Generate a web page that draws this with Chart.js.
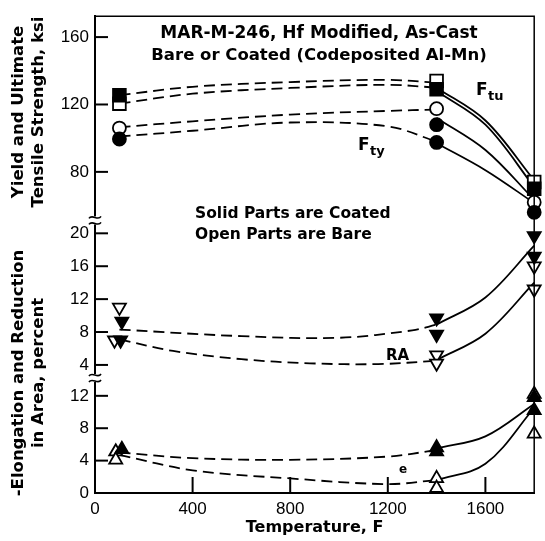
<!DOCTYPE html>
<html>
<head>
<meta charset="utf-8">
<title>MAR-M-246 tensile properties</title>
<script src="https://cdn.jsdelivr.net/npm/chart.js@4.4.1/dist/chart.umd.min.js"></script>
<style>
  html, body { margin: 0; padding: 0; background: #fff; }
  #wrap { width: 545px; height: 541px; position: relative; }
</style>
</head>
<body>
<div id="wrap"><canvas id="chart" width="545" height="541"></canvas></div>
<script>
// tick labels
const tempTicks = [0, 400, 800, 1200, 1600];
const strengthTicks = [80, 120, 160];
const raTicks = [4, 8, 12, 16, 20];
const elongTicks = [0, 4, 8, 12];

// test points [temperature F, value]  (solid = coated, open = bare)
const ftuCoatedPts = [[100, 125.5], [1400, 129], [1800, 70]];
const ftuBarePts = [[100, 120.5], [1400, 134], [1800, 74]];
const ftyCoatedPts = [[100, 99.5], [1400, 108], [1400, 97.5], [1800, 56]];
const ftyBarePts = [[100, 106], [1400, 117.5], [1800, 62]];
const raCoatedPts = [[110, 9.3], [105, 7], [1400, 9.7], [1400, 7.7], [1800, 19.7], [1800, 17.2]];
const raBarePts = [[100, 11], [80, 7], [1400, 5.2], [1400, 4.2], [1800, 16], [1800, 13.2]];
const elongCoatedPts = [[110, 5.4], [1400, 5.6], [1400, 5.1], [1800, 11.8], [1800, 10.2]];
const elongBarePts = [[85, 5.1], [85, 4.1], [1400, 1.8], [1400, 0.6], [1800, 12.2], [1800, 7.3]];

// faired curves: dashed part up to 1400 F, solid part 1400-1800 F
const ftuDashA = [[100, 125.5], [400, 130.5], [800, 133.3], [1200, 134.6], [1400, 133]];
const ftuDashB = [[100, 120.5], [400, 126.4], [800, 129.8], [1200, 131.7], [1400, 130]];
const ftyDashA = [[100, 106.5], [400, 110], [800, 114], [1200, 116.2], [1400, 117]];
const ftyDashB = [[100, 101], [400, 104.4], [800, 109.3], [1200, 107], [1400, 98]];
const ftuSolidA = [[1400, 130], [1600, 110.5], [1800, 75]];
const ftuSolidB = [[1400, 128], [1600, 108], [1800, 71]];
const ftySolidA = [[1400, 112], [1600, 93], [1800, 63.5]];
const ftySolidB = [[1400, 97], [1600, 81], [1800, 61.5]];

const raDashA = [[100, 8.3], [600, 7.5], [1000, 7.3], [1300, 8.2], [1400, 8.9]];
const raDashB = [[100, 7.1], [320, 5.7], [600, 4.7], [880, 4.2], [1160, 4.1], [1400, 4.5]];
const raSolidA = [[1400, 8.9], [1600, 12.2], [1800, 18.5]];
const raSolidB = [[1400, 4.6], [1600, 7.8], [1800, 14]];

const elongDashA = [[100, 5], [400, 4.3], [800, 4.1], [1200, 4.5], [1400, 5.3]];
const elongDashB = [[100, 4.7], [400, 2.8], [800, 1.8], [1200, 1.1], [1400, 1.6]];
const elongSolidA = [[1400, 5.5], [1600, 7], [1800, 11]];
const elongSolidB = [[1400, 1.6], [1600, 3.6], [1800, 10.5]];

const toXY = pts => pts.map(p => ({ x: p[0], y: p[1] }));

const radiusFor = { rect: 9, circle: 6.5, triangle: 7.5 };

function markers(pts, axis, style, filled, rot) {
    return {
        data: toXY(pts),
        yAxisID: axis,
        showLine: false,
        pointStyle: style,
        pointRotation: rot || 0,
        pointRadius: radiusFor[style],
        pointBackgroundColor: filled ? '#000' : '#fff',
        pointBorderColor: '#000',
        pointBorderWidth: 1.8,
        clip: false,
        order: 0
    };
}

function curve(pts, axis, dashed) {
    return {
        data: toXY(pts),
        yAxisID: axis,
        borderColor: '#000',
        borderWidth: 1.8,
        borderDash: dashed ? [11, 6] : [],
        pointRadius: 0,
        tension: 0.35,
        fill: false,
        clip: false,
        order: 1
    };
}

const datasets = [
    curve(ftuDashA, 'yS', true), curve(ftuDashB, 'yS', true),
    curve(ftyDashA, 'yS', true), curve(ftyDashB, 'yS', true),
    curve(ftuSolidA, 'yS', false), curve(ftuSolidB, 'yS', false),
    curve(ftySolidA, 'yS', false), curve(ftySolidB, 'yS', false),
    curve(raDashA, 'yR', true), curve(raDashB, 'yR', true),
    curve(raSolidA, 'yR', false), curve(raSolidB, 'yR', false),
    curve(elongDashA, 'yE', true), curve(elongDashB, 'yE', true),
    curve(elongSolidA, 'yE', false), curve(elongSolidB, 'yE', false),
    markers(ftuCoatedPts, 'yS', 'rect', true),
    markers(ftuBarePts, 'yS', 'rect', false),
    markers(ftyCoatedPts, 'yS', 'circle', true),
    markers(ftyBarePts, 'yS', 'circle', false),
    markers(raCoatedPts, 'yR', 'triangle', true, 180),
    markers(raBarePts, 'yR', 'triangle', false, 180),
    markers(elongCoatedPts, 'yE', 'triangle', true),
    markers(elongBarePts, 'yE', 'triangle', false)
];

const tickFont = { family: 'Liberation Sans', size: 17 };
const boldFace = 'DejaVu Sans';

function yAxis(ticks, min, max, weight) {
    return {
        type: 'linear',
        position: 'left',
        stack: 'panels',
        stackWeight: weight,
        min: min,
        max: max,
        afterBuildTicks: s => { s.ticks = ticks.map(v => ({ value: v })); },
        afterFit: s => { s.width = 95; },
        grid: { display: false, drawTicks: false },
        border: { color: '#000', width: 2 },
        ticks: { color: '#000', font: tickFont, padding: 6, autoSkip: false, callback: v => String(v) }
    };
}

// 手寫的裝飾: 外框、內向刻度、斷軸符號和文字標註
const decorPlugin = {
    id: 'decor',
    afterDraw(chart) {
        const { ctx, chartArea: a, scales } = chart;
        ctx.save();
        ctx.strokeStyle = '#000';
        ctx.fillStyle = '#000';

        ctx.lineWidth = 1.5;
        ctx.beginPath();
        ctx.moveTo(a.left, a.top);
        ctx.lineTo(a.right, a.top);
        ctx.lineTo(a.right, a.bottom);
        ctx.stroke();

        ctx.lineWidth = 2;
        [['yS', strengthTicks], ['yR', raTicks], ['yE', elongTicks]].forEach(([id, ticks]) => {
            const s = scales[id];
            ticks.forEach(v => {
                const y = s.getPixelForValue(v);
                ctx.beginPath();
                ctx.moveTo(a.left, y);
                ctx.lineTo(a.left + 13, y);
                ctx.stroke();
            });
        });
        tempTicks.forEach(v => {
            if (v === 0) return;
            const x = scales.x.getPixelForValue(v);
            ctx.beginPath();
            ctx.moveTo(x, a.bottom);
            ctx.lineTo(x, a.bottom - 16);
            ctx.stroke();
        });

        // axis breaks
        [scales.yS.bottom, scales.yR.bottom].forEach(yb => {
            ctx.fillStyle = '#fff';
            ctx.fillRect(a.left - 3, yb - 4, 6, 8);
            ctx.fillStyle = '#000';
            ctx.lineWidth = 1.6;
            [-3, 3].forEach(dy => {
                const y = yb + dy;
                ctx.beginPath();
                ctx.moveTo(a.left - 6, y + 1);
                ctx.bezierCurveTo(a.left - 3, y - 4, a.left + 3, y + 4, a.left + 6, y - 1);
                ctx.stroke();
            });
        });

        const text = (str, x, y, size, align) => {
            ctx.font = 'bold ' + size + 'px "' + boldFace + '"';
            ctx.textAlign = align || 'left';
            ctx.textBaseline = 'middle';
            ctx.fillText(str, x, y);
        };

        text('MAR-M-246, Hf Modified, As-Cast', 319, 33.5, 17, 'center');
        text('Bare or Coated (Codeposited Al-Mn)', 319, 55.5, 16.5, 'center');
        text('Solid Parts are Coated', 195, 213.5, 15.5);
        text('Open Parts are Bare', 195, 234.5, 15.5);

        text('F', 476, 91, 17);
        text('tu', 488, 97, 13);
        text('F', 358, 146, 17);
        text('ty', 370, 152, 13);
        text('RA', 386, 356, 15);
        text('e', 399, 470, 12);

        // y-axis titles
        const vtext = (str, x, y) => {
            ctx.save();
            ctx.translate(x, y);
            ctx.rotate(-Math.PI / 2);
            text(str, 0, 0, 16.5, 'center');
            ctx.restore();
        };
        vtext('Yield and Ultimate', 19, 112);
        vtext('Tensile Strength, ksi', 39, 112);
        vtext('-Elongation and Reduction', 19, 373);
        vtext('in Area, percent', 39, 373);

        ctx.restore();
    }
};

new Chart(document.getElementById('chart'), {
    type: 'line',
    data: { datasets: datasets },
    plugins: [decorPlugin],
    options: {
        responsive: false,
        animation: false,
        layout: { padding: { left: 0, right: 8, top: 12, bottom: 0 } },
        plugins: { legend: { display: false }, tooltip: { enabled: false } },
        scales: {
            x: {
                type: 'linear',
                position: 'bottom',
                min: 0,
                max: 1800,
                afterBuildTicks: s => { s.ticks = tempTicks.map(v => ({ value: v })); },
                afterFit: s => { s.height = 48; },
                grid: { display: false, drawTicks: false },
                border: { color: '#000', width: 2 },
                ticks: { color: '#000', font: tickFont, padding: 6, maxRotation: 0, autoSkip: false, callback: v => String(v) },
                title: {
                    display: true,
                    text: 'Temperature, F',
                    color: '#000',
                    font: { family: boldFace, size: 16, weight: 'bold' },
                    padding: { top: 0, bottom: 4 }
                }
            },
            yE: yAxis(elongTicks, 0, 14.2, 116),
            yR: yAxis(raTicks, 2.41, 21.57, 159),
            yS: yAxis(strengthTicks, 51.2, 172.4, 206)
        }
    }
});
</script>
</body>
</html>
